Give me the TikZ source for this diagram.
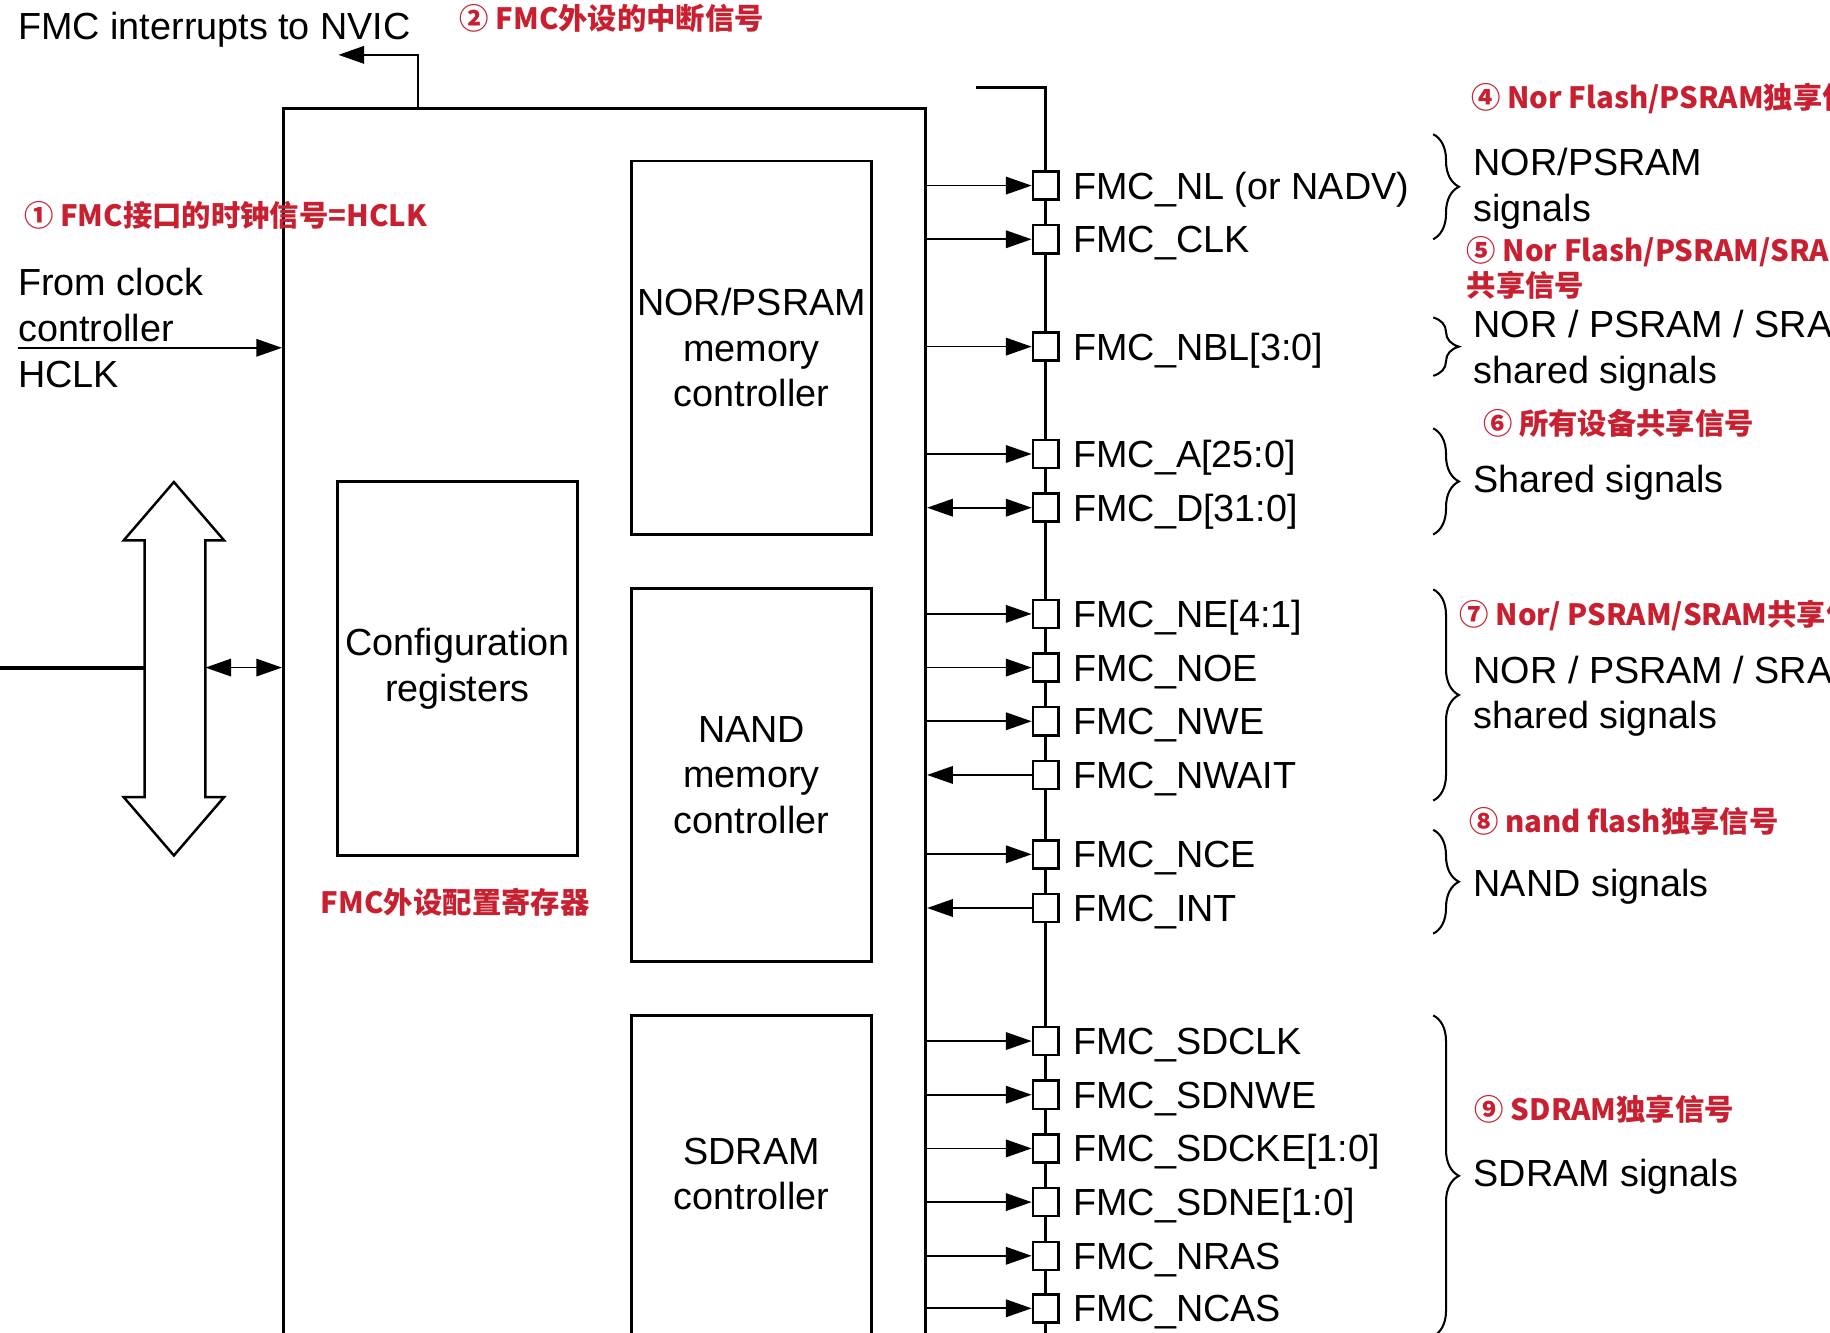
\documentclass[tikz,border=0pt]{standalone}
\usepackage{fontspec}
\setmainfont{Liberation Sans}
\newfontfamily\cjkfont{Noto Sans CJK SC}
\usepackage{tikz}
\usetikzlibrary{arrows.meta,positioning,decorations.pathreplacing}
\definecolor{notered}{RGB}{200,32,48}

\begin{document}
\begin{tikzpicture}[
                x=0.01cm, y=-0.01cm,
                >={Triangle[length=2.2mm, width=1.5mm]},
                txt/.style={font=\fontsize{9.2}{11.1}\selectfont, inner sep=0pt},
                sig/.style={txt, text height=6.6pt, text depth=0pt},
                note/.style={font=\cjkfont\bfseries\fontsize{7.15}{8.5}\selectfont,
                             text=notered, inner sep=0pt, anchor=base west, align=left},
                ctrl/.style={draw, line width=0.7pt, minimum width=2.06cm,
                             minimum height=3.2cm, txt, align=center},
                pad/.style={draw, line width=0.6pt, fill=white, minimum width=0.22cm,
                            minimum height=0.24cm, inner sep=0pt},
                wire/.style={line width=0.4pt},
                brace/.style={decorate, decoration={brace, amplitude=2.2mm}, line width=0.5pt}
            ]
            \fill[white] (0,0) rectangle (1568,1142);
            \clip (0,0) rectangle (1568,1142);

            \node[draw, line width=0.7pt, minimum width=5.5cm, minimum height=10.87cm, inner sep=0pt] (fmc) at (518,636.5) {};
            \node[ctrl] (norctl) at (644,298) {NOR/PSRAM\\memory\\controller};
            \node[ctrl] (nandctl) at (644,664) {NAND\\memory\\controller};
            \node[ctrl] (sdctl) at (644,1030) {};
            \node[txt, align=center] (sdtxt) at (644,1006) {SDRAM\\controller};
            \node[ctrl] (cfg) at (392,573) {Configuration\\registers};
            \node[note, anchor=base] (cfgnote) at (390,783) {FMC外设配置寄存器};

            \node[txt, anchor=base west] (nvictxt) at (15,33.6) {FMC interrupts to NVIC};
            \node[note] (irqnote) at (393,25) {② FMC外设的中断信号};
            \coordinate (irq) at (358,93);
            \coordinate (nvic) at (290,47);
            \draw[->, line width=0.5pt] (irq) |- (nvic);

            \node[note] (clknote) at (20,194) {① FMC接口的时钟信号=HCLK};
            \node[txt, anchor=base west, align=left] (clktxt) at (15,331.6) {From clock\\controller\\HCLK};
            \coordinate (hclk) at (15,298);
            \draw[->, wire] (hclk) -- (fmc.west |- hclk);

            \draw[line width=0.6pt, fill=white] (149,413) -- (192,463) -- (176,463) -- (176,683)
                -- (192,683) -- (149,733) -- (106,683) -- (124,683) -- (124,463) -- (106,463) -- cycle;
            \coordinate (ext) at (0,572);
            \coordinate (busl) at (124,572);
            \coordinate (busr) at (176,572);
            \draw[line width=1pt] (ext) -- (busl);
            \draw[<->, wire] (busr) -- (fmc.west |- busr);

            \coordinate (bustop) at (836,75);
            \coordinate (busend) at (896,1160);
            \draw[line width=0.7pt] (bustop) -| (busend);

            \node[pad] (nl) at (896,159) {};
            \node[sig, right=0.11cm of nl] (nllbl) {FMC\_NL (or NADV)};
            \draw[->, wire] (fmc.east |- nl) -- (nl);
            \node[pad] (clk) at (896,205) {};
            \node[sig, right=0.11cm of clk] (clklbl) {FMC\_CLK};
            \draw[->, wire] (fmc.east |- clk) -- (clk);
            \node[pad] (nbl) at (896,297) {};
            \node[sig, right=0.11cm of nbl] (nbllbl) {FMC\_NBL[3:0]};
            \draw[->, wire] (fmc.east |- nbl) -- (nbl);
            \node[pad] (addr) at (896,389) {};
            \node[sig, right=0.11cm of addr] (addrlbl) {FMC\_A[25:0]};
            \draw[->, wire] (fmc.east |- addr) -- (addr);
            \node[pad] (data) at (896,435) {};
            \node[sig, right=0.11cm of data] (datalbl) {FMC\_D[31:0]};
            \draw[<->, wire] (fmc.east |- data) -- (data);
            \node[pad] (ne) at (896,526) {};
            \node[sig, right=0.11cm of ne] (nelbl) {FMC\_NE[4:1]};
            \draw[->, wire] (fmc.east |- ne) -- (ne);
            \node[pad] (noe) at (896,572) {};
            \node[sig, right=0.11cm of noe] (noelbl) {FMC\_NOE};
            \draw[->, wire] (fmc.east |- noe) -- (noe);
            \node[pad] (nwe) at (896,618) {};
            \node[sig, right=0.11cm of nwe] (nwelbl) {FMC\_NWE};
            \draw[->, wire] (fmc.east |- nwe) -- (nwe);
            \node[pad] (nwait) at (896,664) {};
            \node[sig, right=0.11cm of nwait] (nwaitlbl) {FMC\_NWAIT};
            \draw[->, wire] (nwait) -- (fmc.east |- nwait);
            \node[pad] (nce) at (896,732) {};
            \node[sig, right=0.11cm of nce] (ncelbl) {FMC\_NCE};
            \draw[->, wire] (fmc.east |- nce) -- (nce);
            \node[pad] (int) at (896,778) {};
            \node[sig, right=0.11cm of int] (intlbl) {FMC\_INT};
            \draw[->, wire] (int) -- (fmc.east |- int);
            \node[pad] (sdclk) at (896,892) {};
            \node[sig, right=0.11cm of sdclk] (sdclklbl) {FMC\_SDCLK};
            \draw[->, wire] (fmc.east |- sdclk) -- (sdclk);
            \node[pad] (sdnwe) at (896,938) {};
            \node[sig, right=0.11cm of sdnwe] (sdnwelbl) {FMC\_SDNWE};
            \draw[->, wire] (fmc.east |- sdnwe) -- (sdnwe);
            \node[pad] (sdcke) at (896,984) {};
            \node[sig, right=0.11cm of sdcke] (sdckelbl) {FMC\_SDCKE[1:0]};
            \draw[->, wire] (fmc.east |- sdcke) -- (sdcke);
            \node[pad] (sdne) at (896,1030) {};
            \node[sig, right=0.11cm of sdne] (sdnelbl) {FMC\_SDNE[1:0]};
            \draw[->, wire] (fmc.east |- sdne) -- (sdne);
            \node[pad] (nras) at (896,1076) {};
            \node[sig, right=0.11cm of nras] (nraslbl) {FMC\_NRAS};
            \draw[->, wire] (fmc.east |- nras) -- (nras);
            \node[pad] (ncas) at (896,1121) {};
            \node[sig, right=0.11cm of ncas] (ncaslbl) {FMC\_NCAS};
            \draw[->, wire] (fmc.east |- ncas) -- (ncas);

            \draw[brace] (1228,115) -- (1228,205);
            \node[note] (n4) at (1260,93) {④ Nor Flash/PSRAM独享信号};
            \node[txt, anchor=base west, align=left] (norsig) at (1262,189.6) {NOR/PSRAM\\signals};
            \draw[brace] (1228,272) -- (1228,322);
            \node[note] (n5) at (1256,254) {⑤ Nor Flash/PSRAM/SRAM\\共享信号};
            \node[txt, anchor=base west, align=left] (shsiga) at (1262,328.6) {NOR / PSRAM / SRAM\\shared signals};
            \draw[brace] (1228,367) -- (1228,458);
            \node[note] (n6) at (1270,372) {⑥ 所有设备共享信号};
            \node[txt, anchor=base west] (shsig) at (1262,422) {Shared signals};
            \draw[brace] (1228,505) -- (1228,686);
            \node[note] (n7) at (1250,536) {⑦ Nor/ PSRAM/SRAM共享信号};
            \node[txt, anchor=base west, align=left] (shsigb) at (1262,624.6) {NOR / PSRAM / SRAM\\shared signals};
            \draw[brace] (1228,711) -- (1228,800);
            \node[note] (n8) at (1258,713) {⑧ nand flash独享信号};
            \node[txt, anchor=base west] (nandsig) at (1262,768) {NAND signals};
            \draw[brace] (1228,870) -- (1228,1145);
            \node[note] (n9) at (1263,960) {⑨ SDRAM独享信号};
            \node[txt, anchor=base west] (sdsig) at (1262,1017) {SDRAM signals};
            \end{tikzpicture}
\end{document}
